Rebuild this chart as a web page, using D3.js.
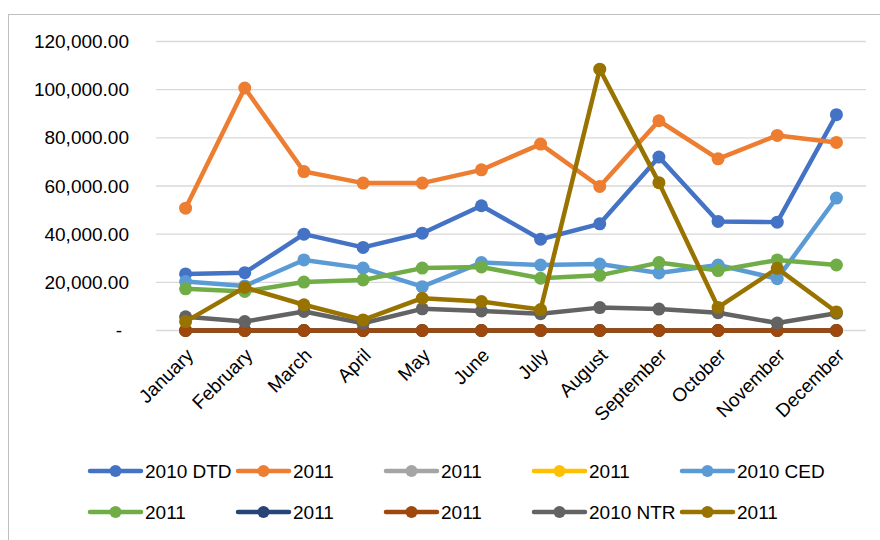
<!DOCTYPE html>
<html>
<head>
<meta charset="utf-8">
<script src="https://cdn.jsdelivr.net/npm/d3@7"></script>
<style>
  html, body { margin: 0; padding: 0; background: #fff; }
  svg { display: block; font-family: "Liberation Sans", Arial, sans-serif; }
  .grid line { stroke: #d9d9d9; stroke-width: 1.3; }
  .axis-label { font-size: 19px; fill: #000; }
</style>
</head>
<body>
<svg id="chart" width="880" height="540"></svg>
<script>
'use strict';

// ── Data ──────────────────────────────────────────────────────────────────
const months = ['January', 'February', 'March', 'April', 'May', 'June',
                'July', 'August', 'September', 'October', 'November', 'December'];
const yTicks = [0, 20000, 40000, 60000, 80000, 100000, 120000];

const dtd2010   = [23500, 24000, 40000, 34500, 40400, 51800, 37900, 44300, 72000, 45300, 45000, 89600];
const dtd2011   = [50800, 100700, 66000, 61200, 61200, 66700, 77400, 59800, 87100, 71300, 81000, 78100];
const grey2011  = [0, 0, 0, 0, 0, 0, 0, 0, 0, 0, 0, 0];
const gold2011  = [0, 0, 0, 0, 0, 0, 0, 0, 0, 0, 0, 0];
const ced2010   = [20300, 18500, 29300, 25900, 18200, 28200, 27200, 27600, 23900, 27200, 21500, 55000];
const ced2011   = [17300, 16200, 20100, 21000, 25900, 26400, 21700, 22900, 28200, 24900, 29300, 27200];
const navy2011  = [0, 0, 0, 0, 0, 0, 0, 0, 0, 0, 0, 0];
const rust2011  = [0, 0, 0, 0, 0, 0, 0, 0, 0, 0, 0, 0];
const ntr2010   = [5700, 3700, 7900, 3000, 9000, 8100, 7000, 9500, 8900, 7400, 3100, 7200];
const ntr2011   = [3700, 17900, 10700, 4400, 13400, 12000, 8700, 108500, 61400, 9600, 25800, 7700];

const seriesNames  = ['2010 DTD', '2011', '2011', '2011', '2010 CED', '2011', '2011', '2011', '2010 NTR', '2011'];
const seriesValues = [dtd2010, dtd2011, grey2011, gold2011, ced2010, ced2011, navy2011, rust2011, ntr2010, ntr2011];
const seriesColors = ['#4472c4', '#ed7d31', '#a5a5a5', '#ffc000', '#5b9bd5',
                      '#70ad47', '#264478', '#9e480e', '#636363', '#997300'];

// ── Layout ────────────────────────────────────────────────────────────────
const svg = d3.select('#chart');
const plot = { left: 156, right: 866, top: 41.5, bottom: 330.5 };

svg.append('rect')
  .attr('x', 8.5).attr('y', 14.5)
  .attr('width', 900).attr('height', 600)
  .attr('fill', 'none').attr('stroke', '#bfbfbf').attr('stroke-width', 1);

const x = d3.scalePoint().domain(months)
  .range([plot.left, plot.right]).padding(0.5);
const y = d3.scaleLinear().domain([0, 120000])
  .range([plot.bottom, plot.top]);

// ── Grid + y axis ─────────────────────────────────────────────────────────
svg.append('g').attr('class', 'grid')
  .selectAll('line').data(yTicks).join('line')
  .attr('x1', plot.left).attr('x2', plot.right)
  .attr('y1', d => y(d)).attr('y2', d => y(d));

const fmt = d3.format(',.2f');
svg.append('g').selectAll('text').data(yTicks).join('text')
  .attr('class', 'axis-label')
  .attr('x', d => d === 0 ? 122 : 129)
  .attr('y', d => y(d))
  .attr('dy', '0.35em')
  .attr('text-anchor', 'end')
  .text(d => d === 0 ? '-' : fmt(d));

// ── x axis labels ─────────────────────────────────────────────────────────
svg.append('g').selectAll('text').data(months).join('text')
  .attr('class', 'axis-label')
  .attr('text-anchor', 'end')
  .attr('transform', d => `translate(${x(d) + 9},${plot.bottom + 26}) rotate(-45)`)
  .text(d => d);

// ── Lines ─────────────────────────────────────────────────────────────────
const line = d3.line().x((d, i) => x(months[i])).y(d => y(d));

seriesValues.forEach((vals, si) => {
  const g = svg.append('g');
  g.append('path')
    .datum(vals)
    .attr('d', line)
    .attr('fill', 'none')
    .attr('stroke', seriesColors[si])
    .attr('stroke-width', 4.5)
    .attr('stroke-linejoin', 'round')
    .attr('stroke-linecap', 'round');
  g.selectAll('circle').data(vals).join('circle')
    .attr('cx', (d, i) => x(months[i]))
    .attr('cy', d => y(d))
    .attr('r', 6.5)
    .attr('fill', seriesColors[si]);
});

// ── Legend ────────────────────────────────────────────────────────────────
const legendCols = [90, 238, 386, 534, 682];
const legendRows = [471, 512];

const legend = svg.append('g').selectAll('g').data(seriesNames).join('g')
  .attr('transform', (d, i) => `translate(${legendCols[i % 5]},${legendRows[Math.floor(i / 5)]})`);

legend.append('line')
  .attr('x1', 0).attr('x2', 51).attr('y1', 0).attr('y2', 0)
  .attr('stroke', (d, i) => seriesColors[i])
  .attr('stroke-width', 4.5)
  .attr('stroke-linecap', 'round');
legend.append('circle')
  .attr('cx', 25.5).attr('cy', 0).attr('r', 6)
  .attr('fill', (d, i) => seriesColors[i]);
legend.append('text')
  .attr('class', 'axis-label')
  .attr('x', 55).attr('dy', '0.35em')
  .text(d => d);
</script>
</body>
</html>
